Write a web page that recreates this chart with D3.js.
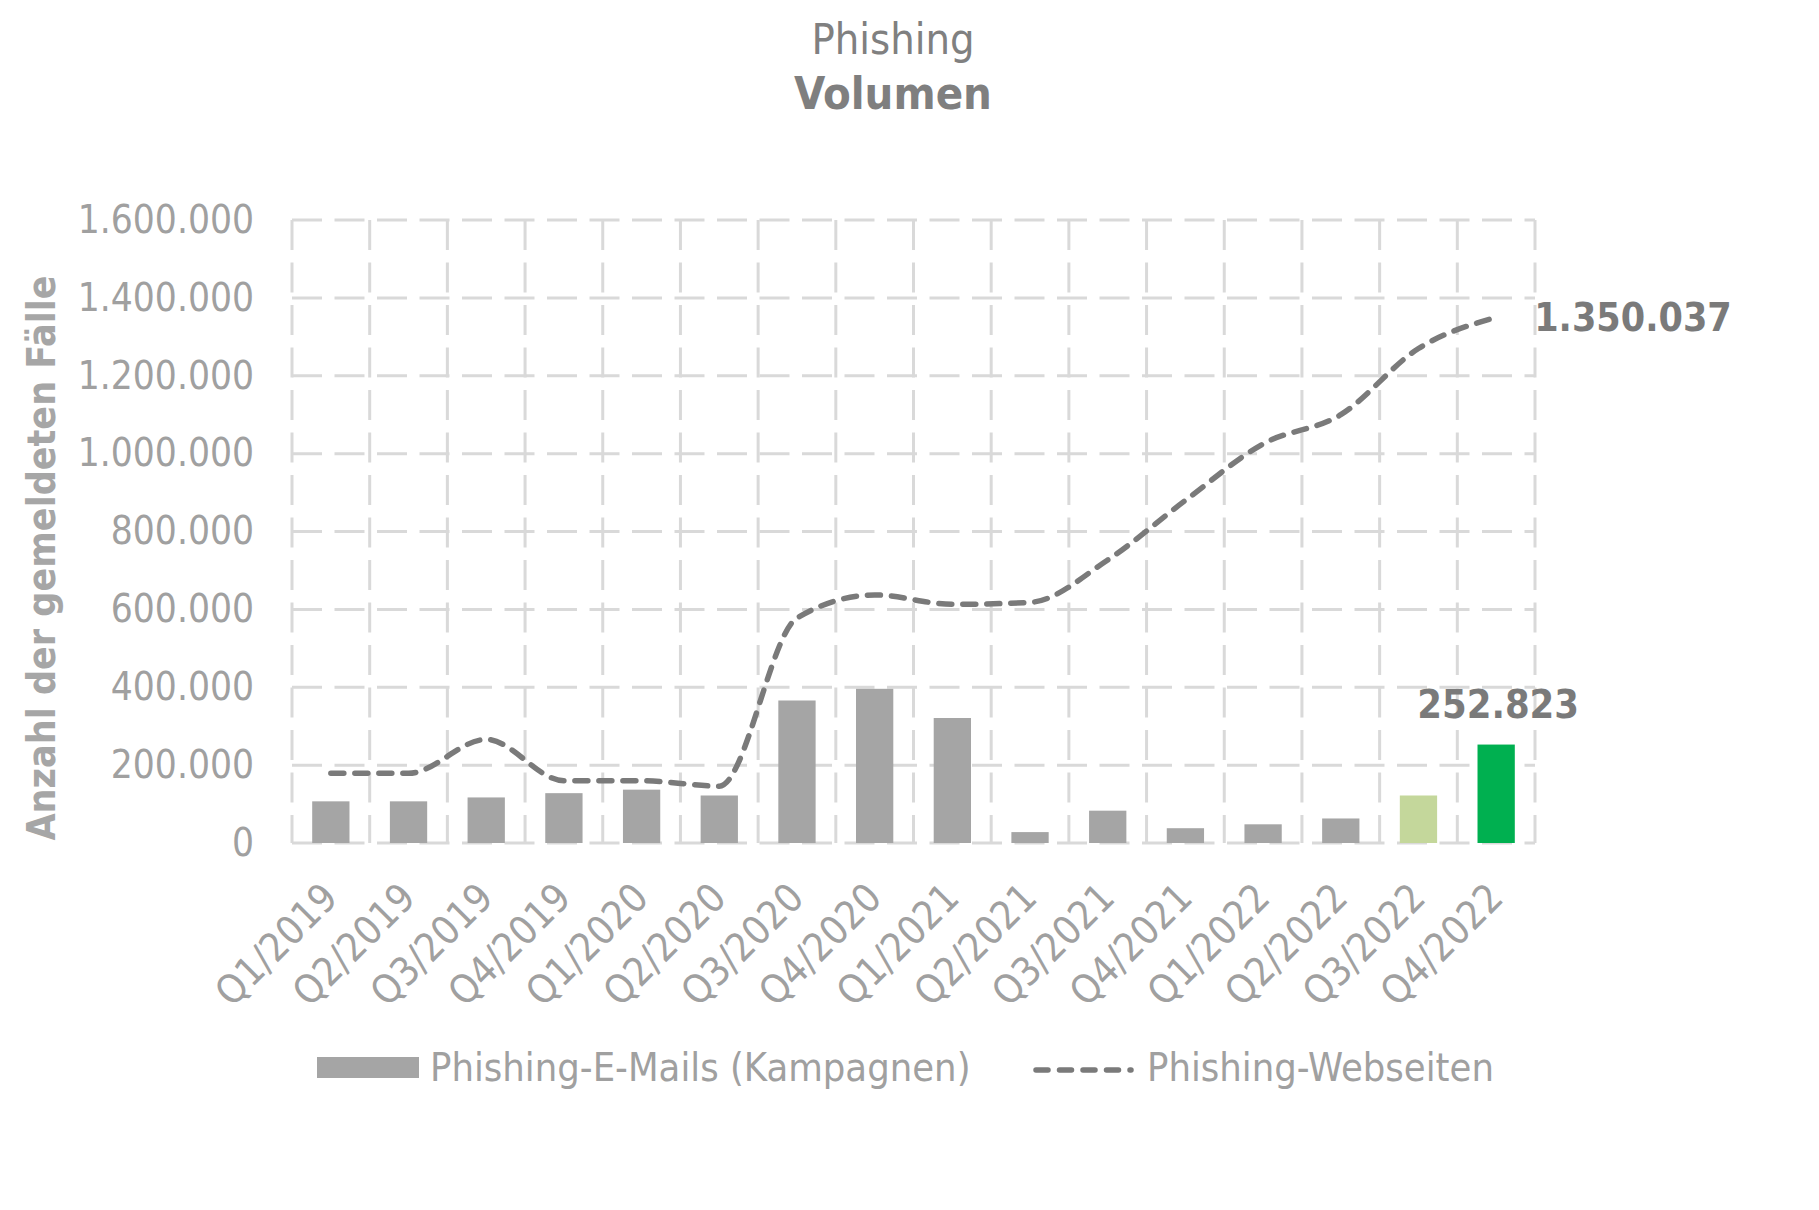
<!DOCTYPE html>
<html>
<head>
<meta charset="utf-8">
<script src="https://cdn.jsdelivr.net/npm/d3@7"></script>
<style>
  html, body { margin: 0; padding: 0; background: #fff; }
  svg { display: block; font-family: "DejaVu Sans Condensed", "DejaVu Sans", sans-serif; }
</style>
</head>
<body>
<svg id="chart" width="1819" height="1210"></svg>
<script>
// quarters on the x axis
const quarters = ["Q1/2019", "Q2/2019", "Q3/2019", "Q4/2019", "Q1/2020", "Q2/2020", "Q3/2020", "Q4/2020",
  "Q1/2021", "Q2/2021", "Q3/2021", "Q4/2021", "Q1/2022", "Q2/2022", "Q3/2022", "Q4/2022"];
// bars: Phishing-E-Mails (Kampagnen)
const emails = [107000, 107000, 117000, 128000, 137000, 122000, 366000, 396000,
  321000, 28000, 83000, 38000, 48000, 63000, 122000, 252823];
// dashed line: Phishing-Webseiten
const websites = [179000, 179000, 266000, 160000, 160000, 146000, 578000, 637000,
  613000, 618000, 727000, 880000, 1025000, 1100000, 1270000, 1350037];
const yTicks = [0, 200000, 400000, 600000, 800000, 1000000, 1200000, 1400000, 1600000];
const seriesNames = ["Phishing-E-Mails (Kampagnen)", "Phishing-Webseiten"];
const titleLines = ["Phishing", "Volumen"];
const yTitle = "Anzahl der gemeldeten Fälle";

const W = 1819, H = 1210;
const plot = { left: 292, right: 1535, top: 220, bottom: 843 };
const gridColor = "#d9d9d9";
const textGray = "#a0a0a0";
const darkGray = "#7a7a7a";
const barGray = "#a5a5a5";
const highlight = { "Q3/2022": "#c4d79b", "Q4/2022": "#00b050" };

const de = d3.formatLocale({ decimal: ",", thousands: ".", grouping: [3], currency: ["", " €"] });
const fmt = de.format(",d");

const svg = d3.select("#chart");
svg.append("rect").attr("width", W).attr("height", H).attr("fill", "#fff");

const x = d3.scaleBand().domain(quarters).range([plot.left, plot.right])
  .paddingInner(0.52).paddingOuter(0.26);
const step = x.step();
const cx = (q) => x(q) + x.bandwidth() / 2;
const y = d3.scaleLinear().domain([0, 1600000]).range([plot.bottom, plot.top]);

// title
svg.append("text").attr("x", 893).attr("y", 54).attr("text-anchor", "middle")
  .attr("font-size", 43).attr("fill", "#808080").text(titleLines[0]);
svg.append("text").attr("x", 893).attr("y", 109).attr("text-anchor", "middle")
  .attr("font-size", 45).attr("font-weight", "bold").attr("fill", "#7f7f7f").text(titleLines[1]);

// grid
const grid = svg.append("g").attr("stroke", gridColor).attr("stroke-width", 3)
  .attr("stroke-dasharray", "30,12.5").attr("fill", "none");
grid.selectAll("line.h").data(yTicks).join("line").attr("class", "h")
  .attr("x1", plot.left).attr("x2", plot.right)
  .attr("y1", (d) => y(d)).attr("y2", (d) => y(d));
grid.selectAll("line.v").data(d3.range(quarters.length + 1)).join("line").attr("class", "v")
  .attr("x1", (i) => plot.left + i * step).attr("x2", (i) => plot.left + i * step)
  .attr("y1", plot.top).attr("y2", plot.bottom);

// y axis
const yAxis = svg.append("g").attr("transform", `translate(${plot.left - 38},0)`)
  .call(d3.axisLeft(y).tickValues(yTicks).tickFormat(fmt).tickSize(0).tickPadding(0));
yAxis.select(".domain").remove();
yAxis.selectAll("text").attr("font-size", 38.5).attr("fill", textGray)
  .attr("font-family", "DejaVu Sans Condensed, DejaVu Sans, sans-serif");

svg.append("text")
  .attr("transform", `translate(55,558) rotate(-90)`)
  .attr("text-anchor", "middle")
  .attr("font-size", 39).attr("font-weight", "bold").attr("fill", "#a6a6a6")
  .text(yTitle);

// x labels
svg.append("g").selectAll("text").data(quarters).join("text")
  .attr("transform", (q) => `translate(${cx(q) + 9},900) rotate(-45)`)
  .attr("text-anchor", "end")
  .attr("font-size", 39.5).attr("fill", textGray)
  .text((q) => q);

// bars
svg.append("g").selectAll("rect").data(quarters).join("rect")
  .attr("x", (q) => x(q)).attr("width", x.bandwidth())
  .attr("y", (q, i) => y(emails[i])).attr("height", (q, i) => y(0) - y(emails[i]))
  .attr("fill", (q) => highlight[q] || barGray);

// line
const line = d3.line().x((d, i) => cx(quarters[i])).y((d) => y(d)).curve(d3.curveMonotoneX);
svg.append("path").datum(websites).attr("d", line)
  .attr("fill", "none").attr("stroke", darkGray).attr("stroke-width", 5.5)
  .attr("stroke-linecap", "round").attr("stroke-dasharray", "13,11");

// data labels
const lastQ = quarters[quarters.length - 1];
svg.append("text").attr("x", cx(lastQ) + 38).attr("y", y(websites[websites.length - 1]))
  .attr("dy", "0.36em").attr("font-size", 39).attr("font-weight", "bold").attr("fill", darkGray)
  .text(fmt(websites[websites.length - 1]));
svg.append("text").attr("x", cx(lastQ) + 2).attr("y", y(emails[emails.length - 1]) - 27)
  .attr("text-anchor", "middle").attr("font-size", 39.5).attr("font-weight", "bold").attr("fill", darkGray)
  .text(fmt(emails[emails.length - 1]));

// legend
const leg = svg.append("g");
leg.append("rect").attr("x", 317).attr("y", 1057).attr("width", 102).attr("height", 21).attr("fill", barGray);
leg.append("text").attr("x", 430).attr("y", 1067).attr("dy", "0.36em")
  .attr("font-size", 39.5).attr("fill", textGray).text(seriesNames[0]);
leg.append("line").attr("x1", 1036).attr("x2", 1131).attr("y1", 1070).attr("y2", 1070)
  .attr("stroke", darkGray).attr("stroke-width", 5.5).attr("stroke-linecap", "round")
  .attr("stroke-dasharray", "12,11.5");
leg.append("text").attr("x", 1147).attr("y", 1067).attr("dy", "0.36em")
  .attr("font-size", 39.5).attr("fill", textGray).text(seriesNames[1]);
</script>
</body>
</html>
